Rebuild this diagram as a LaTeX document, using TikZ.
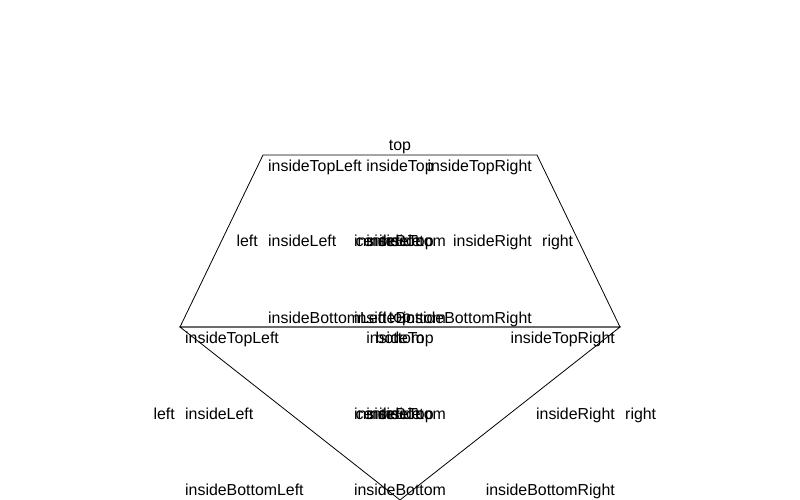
\documentclass[tikz,border=0pt]{standalone}
\usepackage{fontspec}
\setmainfont{Liberation Sans}

\begin{document}
\begin{tikzpicture}
  [x=1pt, y=-1pt,
   every node/.style={inner sep=0pt, font=\fontsize{15.9}{18}\selectfont, text height=13pt, text depth=2pt},
   outline/.style={draw=black, line width=0.8pt, line join=miter}]

  \useasboundingbox (0,0) rectangle (800,500);

  % corners of the two shapes
  \coordinate (tzA) at (263,155);
  \coordinate (tzB) at (537,155);
  \coordinate (tzC) at (620,327);
  \coordinate (tzD) at (180,327);
  \coordinate (trE) at (400,500);

  \draw[outline] (tzA) -- (tzB) -- (tzC) -- (tzD) -- cycle;
  \draw[outline] (tzD) -- (tzC) -- (trE) -- cycle;

  % trapezoid labels
  \node (tzTop) at (400,145) {top};
  \node[anchor=west] (tzInTL) at (268,166) {insideTopLeft};
  \node (tzInT) at (400,166) {insideTop};
  \node[anchor=east] (tzInTR) at (532,166) {insideTopRight};
  \node[anchor=east] (tzLeft) at (258,241) {left};
  \node[anchor=west] (tzInL) at (268,241) {insideLeft};
  \node[anchor=east] (tzInR) at (532,241) {insideRight};
  \node[anchor=west] (tzRight) at (542,241) {right};
  \node[anchor=east] (tzCenter) at (400,241) {center};
  \node (tzIn) at (400,241) {inside};
  \node (tzInTc) at (400,241) {insideTop};
  \node (tzInBc) at (400,241) {insideBottom};
  \node[anchor=west] (tzInBL) at (268,318) {insideBottomLeft};
  \node (tzInB) at (400,318) {insideBottom};
  \node[anchor=east] (tzInBR) at (532,318) {insideBottomRight};
  \node (tzBottom) at (400,338) {bottom};

  % triangle labels
  \node (trTop) at (400,317) {top};
  \node[anchor=west] (trInTL) at (185,338) {insideTopLeft};
  \node (trInT) at (400,338) {insideTop};
  \node[anchor=east] (trInTR) at (615,338) {insideTopRight};
  \node[anchor=east] (trLeft) at (175,414) {left};
  \node[anchor=west] (trInL) at (185,414) {insideLeft};
  \node[anchor=east] (trInR) at (615,414) {insideRight};
  \node[anchor=west] (trRight) at (625,414) {right};
  \node[anchor=east] (trCenter) at (400,414) {center};
  \node (trIn) at (400,414) {inside};
  \node (trInTc) at (400,414) {insideTop};
  \node (trInBc) at (400,414) {insideBottom};
  \node[anchor=west] (trInBL) at (185,490) {insideBottomLeft};
  \node (trInB) at (400,490) {insideBottom};
  \node[anchor=east] (trInBR) at (615,490) {insideBottomRight};
\end{tikzpicture}
\end{document}
